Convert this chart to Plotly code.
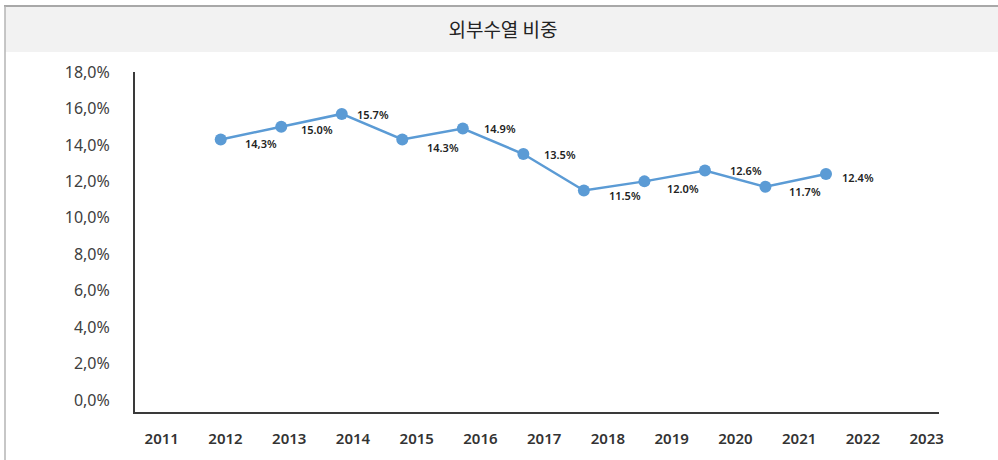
import plotly.graph_objects as go

# ---- data ----
title_text = "외부수열 비중"
axis_years = [2011, 2012, 2013, 2014, 2015, 2016, 2017, 2018, 2019, 2020, 2021, 2022, 2023]
data_years = [2012, 2013, 2014, 2015, 2016, 2017, 2018, 2019, 2020, 2021, 2022]
share_pct = [14.3, 15.0, 15.7, 14.3, 14.9, 13.5, 11.5, 12.0, 12.6, 11.7, 12.4]
value_labels = ["14,3%", "15.0%", "15.7%", "14.3%", "14.9%", "13.5%",
                "11.5%", "12.0%", "12.6%", "11.7%", "12.4%"]
y_tick_vals = [0, 2, 4, 6, 8, 10, 12, 14, 16, 18]
y_tick_text = ["0,0%", "2,0%", "4,0%", "6,0%", "8,0%", "10,0%",
               "12,0%", "14,0%", "16,0%", "18,0%"]

# ---- styling (label offsets in px, right / down) ----
label_dx = [40, 36, 31, 41, 37, 37, 41, 39, 41, 40, 32]
label_dy = [4, 3, 1, 8, 0, 0, 5, 7, 0, 5, 3]

LINE_COLOR = "#5b9bd5"
AXIS_COLOR = "#3a3a3a"
FONT = "Noto Sans, Noto Sans CJK KR, sans-serif"

fig = go.Figure()
# empty trace so the year axis (x) is drawn
fig.add_trace(go.Scatter(
    x=axis_years, y=[None] * len(axis_years), xaxis="x", yaxis="y",
    mode="markers", hoverinfo="skip", showlegend=False,
))
fig.add_trace(go.Scatter(
    x=data_years, y=share_pct, xaxis="x2", yaxis="y",
    mode="lines+markers",
    line=dict(color=LINE_COLOR, width=2.5),
    marker=dict(color=LINE_COLOR, size=12),
    hoverinfo="skip", showlegend=False,
))

annotations = []
for yr, v, txt, dx, dy in zip(data_years, share_pct, value_labels, label_dx, label_dy):
    annotations.append(dict(
        x=yr, y=v, xref="x2", yref="y", text=txt, showarrow=False,
        xanchor="center", yanchor="middle", xshift=dx, yshift=-dy,
        font=dict(family=FONT, size=11, color="#222222", weight=600),
    ))

L, R, T, B = 135, 59, 72, 45
W, H = 998, 460

shapes = [
    # title bar
    dict(type="rect", xref="paper", yref="paper", xsizemode="pixel", ysizemode="pixel",
         xanchor=0, yanchor=1, x0=5 - L, x1=W - L, y0=T - 52, y1=T - 6,
         fillcolor="#f2f2f2", line=dict(width=0), layer="below"),
    # top border
    dict(type="line", xref="paper", yref="paper", xsizemode="pixel", ysizemode="pixel",
         xanchor=0, yanchor=1, x0=4 - L, x1=W - L, y0=T - 6, y1=T - 6,
         line=dict(color="#a8a8a8", width=2)),
    # left border
    dict(type="line", xref="paper", yref="paper", xsizemode="pixel", ysizemode="pixel",
         xanchor=0, yanchor=1, x0=5 - L, x1=5 - L, y0=T - 6, y1=T - H,
         line=dict(color="#b5b5b5", width=1.5)),
]

fig.update_layout(
    width=W, height=H,
    margin=dict(l=L, r=R, t=T, b=B, pad=0),
    paper_bgcolor="white", plot_bgcolor="white",
    title=dict(text=title_text, x=503 / W, y=1 - 30 / H, xanchor="center", yanchor="middle",
               font=dict(family="Noto Sans CJK KR, sans-serif", size=19, color="#222222")),
    xaxis=dict(
        range=[2010.581, 2023.193], tickmode="array", tickvals=axis_years,
        ticktext=[str(y) for y in axis_years], showgrid=False, zeroline=False,
        showline=True, linecolor=AXIS_COLOR, linewidth=2, ticks="",
        ticklabelstandoff=12, anchor="y",
        tickfont=dict(family=FONT, size=15, color="#333333", weight=600),
    ),
    xaxis2=dict(
        range=[2010.584, 2023.867], overlaying="x", anchor="y",
        visible=False, showgrid=False, zeroline=False,
    ),
    yaxis=dict(
        range=[-0.653, 18.0], tickmode="array", tickvals=y_tick_vals, ticktext=y_tick_text,
        showgrid=False, zeroline=False, showline=True, linecolor=AXIS_COLOR, linewidth=2,
        ticks="", ticklabelstandoff=20,
        tickfont=dict(family=FONT, size=16, color="#404040"),
    ),
    annotations=annotations,
    shapes=shapes,
    showlegend=False,
)

fig.write_html("out.html", config={"displayModeBar": False},
               post_script="document.body.style.margin='0';")
